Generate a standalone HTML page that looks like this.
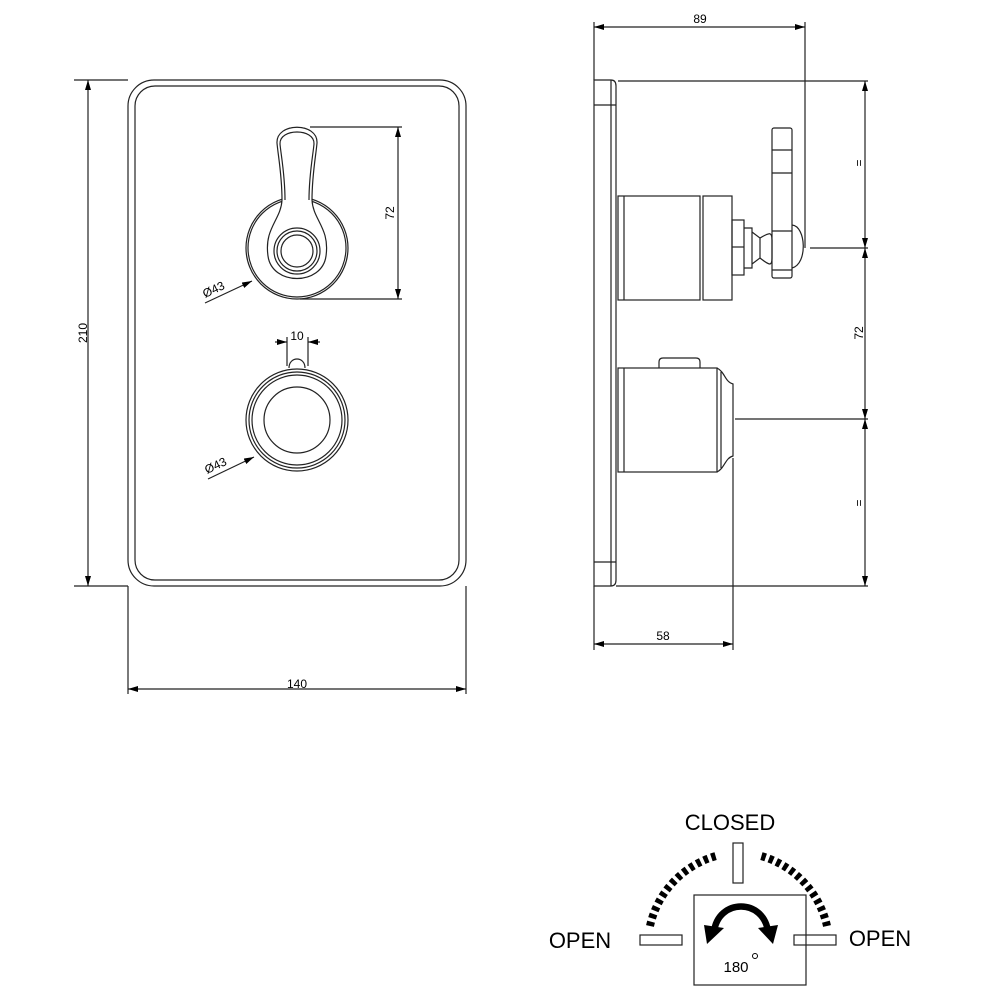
<!DOCTYPE html>
<html><head><meta charset="utf-8"><style>
html,body{margin:0;padding:0;background:#fff}
svg{display:block}
text{font-family:"Liberation Sans",sans-serif;fill:#000}
</style></head><body>
<svg width="1000" height="1000" viewBox="0 0 1000 1000" xmlns="http://www.w3.org/2000/svg">
<defs>
<marker id="a" viewBox="0 0 10 6" refX="10" refY="3" markerWidth="10" markerHeight="6" orient="auto-start-reverse" markerUnits="userSpaceOnUse"><path d="M0,0 L10,3 L0,6 z" fill="#000"/></marker>
</defs>
<g fill="none" stroke="#222" stroke-width="1.2">
<rect x="128" y="80" width="338" height="506" rx="26"/>
<rect x="135" y="86" width="324" height="494" rx="20"/>
<line x1="74" y1="80" x2="128" y2="80"/>
<line x1="74" y1="586" x2="128" y2="586"/>
<line x1="88" y1="80" x2="88" y2="586" marker-start="url(#a)" marker-end="url(#a)"/>
<line x1="128" y1="586" x2="128" y2="694"/>
<line x1="466" y1="586" x2="466" y2="694"/>
<line x1="128" y1="689" x2="466" y2="689" marker-start="url(#a)" marker-end="url(#a)"/>
<!-- upper handle -->
<circle cx="297" cy="248" r="51"/>
<circle cx="297" cy="248" r="49"/>
<path d="M282,200 C282,175 278,155 277,143 C276,122 318,122 317,143 C316,155 312,175 312,200 C313,220 330,228 326,256 C322,286 272,286 268,256 C264,228 281,220 282,200 Z" fill="#fff"/>
<path d="M285,200 C285,175 281,155 280,144 C279,128 315,128 314,144 C313,155 309,175 309,200"/>
<circle cx="297" cy="251" r="23"/>
<circle cx="297" cy="251" r="20"/>
<circle cx="297" cy="251" r="16"/>
<line x1="310" y1="127" x2="402" y2="127"/>
<line x1="300" y1="299" x2="402" y2="299"/>
<line x1="398" y1="127" x2="398" y2="299" marker-start="url(#a)" marker-end="url(#a)"/>
<line x1="205" y1="303" x2="252" y2="281" marker-end="url(#a)"/>
<!-- lower knob -->
<path d="M289,368 C289,356 305,356 305,368" />
<circle cx="297" cy="420" r="51"/>
<circle cx="297" cy="420" r="48"/>
<circle cx="297" cy="420" r="45"/>
<circle cx="297" cy="420" r="33"/>
<line x1="287" y1="337" x2="287" y2="366"/>
<line x1="308" y1="337" x2="308" y2="366"/>
<line x1="275" y1="342" x2="287" y2="342" marker-end="url(#a)"/>
<line x1="320" y1="342" x2="308" y2="342" marker-end="url(#a)"/>
<line x1="208" y1="479" x2="254" y2="457" marker-end="url(#a)"/>
<!-- side plate -->
<path d="M594,80 L611,80 Q616,80 616,86 L616,580 Q616,586 611,586 L594,586 Z"/>
<line x1="611" y1="80" x2="611" y2="586"/>
<line x1="594" y1="105" x2="616" y2="105"/>
<line x1="594" y1="562" x2="616" y2="562"/>
<line x1="618" y1="81" x2="868" y2="81"/>
<line x1="616" y1="586" x2="868" y2="586"/>
<line x1="594" y1="22" x2="594" y2="80"/>
<line x1="805" y1="22" x2="805" y2="248"/>
<line x1="594" y1="27" x2="805" y2="27" marker-start="url(#a)" marker-end="url(#a)"/>
<rect x="618" y="196" width="82" height="104"/>
<line x1="624" y1="196" x2="624" y2="300"/>
<rect x="703" y="196" width="29" height="104"/>
<rect x="732" y="220" width="12" height="55"/>
<line x1="732" y1="247" x2="744" y2="247"/>
<path d="M744,228 L752,228 L752,268 L744,268"/>
<path d="M752,232 L760,238 L760,258 L752,264"/>
<path d="M760,238 C770,232 772,232 772,240 L772,258 C772,266 770,266 760,258"/>
<rect x="772" y="128" width="20" height="150" rx="2"/>
<line x1="772" y1="150" x2="792" y2="150"/>
<line x1="772" y1="173" x2="792" y2="173"/>
<line x1="772" y1="231" x2="792" y2="231"/>
<line x1="772" y1="270" x2="792" y2="270"/>
<path d="M792,225 C806,226 808,264 792,268"/>
<line x1="810" y1="248" x2="868" y2="248"/>
<path d="M659,368 L659,362 Q659,358 663,358 L696,358 Q700,358 700,362 L700,368"/>
<rect x="618" y="368" width="99" height="104"/>
<line x1="624" y1="368" x2="624" y2="472"/>
<path d="M717,368 C725,372 725,382 733,384 L733,456 C725,458 725,468 717,472"/>
<line x1="721" y1="372" x2="721" y2="468"/>
<line x1="735" y1="419" x2="868" y2="419"/>
<line x1="733" y1="458" x2="733" y2="650"/>
<line x1="594" y1="586" x2="594" y2="650"/>
<line x1="594" y1="644" x2="733" y2="644" marker-start="url(#a)" marker-end="url(#a)"/>
<line x1="865" y1="81" x2="865" y2="248" marker-start="url(#a)" marker-end="url(#a)"/>
<line x1="865" y1="248" x2="865" y2="419" marker-start="url(#a)" marker-end="url(#a)"/>
<line x1="865" y1="419" x2="865" y2="586" marker-start="url(#a)" marker-end="url(#a)"/>
<rect x="694" y="895" width="112" height="90"/>
<rect x="733" y="843" width="10" height="40"/>
<rect x="640" y="935" width="42" height="10"/>
<rect x="794" y="935" width="42" height="10"/>
</g>
<g stroke="#000" stroke-width="8" fill="none" stroke-dasharray="4.5 3.5">
<path d="M650,926 A94,94 0 0 1 716,856"/>
<path d="M827,926 A94,94 0 0 0 761,856"/>
</g>
<path d="M714,932 C718,898 764,898 768,932" fill="none" stroke="#000" stroke-width="6.5"/>
<path d="M704,925 L724,928 L707,944 Z" fill="#000"/>
<path d="M778,925 L758,928 L773,944 Z" fill="#000"/>
<g font-size="12">
<text x="297" y="688" text-anchor="middle">140</text>
<text transform="translate(87,333) rotate(-90)" text-anchor="middle">210</text>
<text transform="translate(394,213) rotate(-90)" text-anchor="middle">72</text>
<text x="297" y="340" text-anchor="middle">10</text>
<text transform="translate(205,298) rotate(-25)">Ø43</text>
<text transform="translate(207,474) rotate(-25)">Ø43</text>
<text x="700" y="23" text-anchor="middle">89</text>
<text x="663" y="640" text-anchor="middle">58</text>
<text transform="translate(863,333) rotate(-90)" text-anchor="middle">72</text>
<text transform="translate(863,163) rotate(-90)" text-anchor="middle">=</text>
<text transform="translate(863,503) rotate(-90)" text-anchor="middle">=</text>
</g>
<text x="730" y="830" font-size="22" text-anchor="middle">CLOSED</text>
<text x="580" y="948" font-size="22" text-anchor="middle">OPEN</text>
<text x="880" y="946" font-size="22" text-anchor="middle">OPEN</text>
<text x="736" y="972" font-size="15" text-anchor="middle">180</text>
<circle cx="755" cy="956" r="2.5" fill="none" stroke="#000" stroke-width="1"/>
</svg>
</body></html>
